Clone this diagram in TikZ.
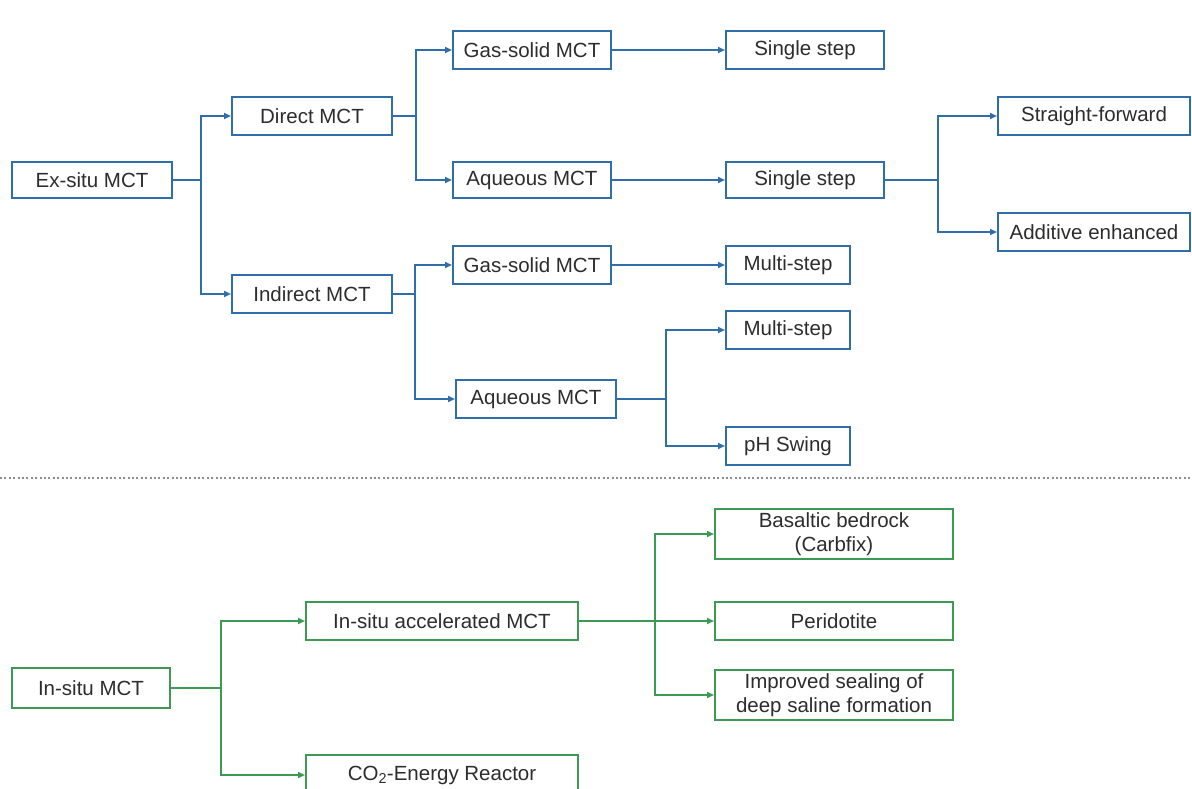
\documentclass[tikz,border=0pt]{standalone}
\usepackage{fontspec}
\setmainfont{Liberation Sans}
\usetikzlibrary{arrows.meta}
\definecolor{exblue}{RGB}{47,110,168}
\definecolor{ingreen}{RGB}{60,154,82}
\definecolor{txt}{RGB}{45,45,45}
\tikzset{
  box/.style={draw, line width=2pt, fill=white, inner sep=0pt, align=center,
    text=txt, font=\fontsize{20.5}{24.5}\selectfont},
  bbox/.style={box, draw=exblue},
  gbox/.style={box, draw=ingreen},
  wire/.style={line width=2pt},
  link/.style={wire, -{Triangle[length=7pt,width=6pt]}},
  blink/.style={link, draw=exblue},
  glink/.style={link, draw=ingreen},
  sep/.style={draw=gray!90, line width=2pt, dash pattern=on 2pt off 2.4pt}
}
\begin{document}
\begin{tikzpicture}[x=1pt,y=-1pt]
\useasboundingbox (0,0) rectangle (1192,789);
\clip (0,0) rectangle (1192,789);
\fill[white] (0,0) rectangle (1192,789);

% ---- ex-situ branch ----
\node[bbox, minimum width=160pt, minimum height=36pt] (exsitu)   at (92,180)   {Ex-situ MCT};
\node[bbox, minimum width=160pt, minimum height=38pt] (direct)   at (312,116)  {Direct MCT};
\node[bbox, minimum width=160pt, minimum height=38pt] (indirect) at (312,294)  {Indirect MCT};
\node[bbox, minimum width=158pt, minimum height=38pt] (gsA)      at (532,50)   {Gas-solid MCT};
\node[bbox, minimum width=158pt, minimum height=38pt] (ssA)      at (805,50)   {Single step};
\node[bbox, minimum width=158pt, minimum height=36pt] (aqA)      at (532,180)  {Aqueous MCT};
\node[bbox, minimum width=158pt, minimum height=36pt] (ssB)      at (805,180)  {Single step};
\node[bbox, minimum width=192pt, minimum height=38pt] (straight) at (1094,116) {Straight-forward};
\node[bbox, minimum width=192pt, minimum height=38pt] (additive) at (1094,232) {Additive enhanced};
\node[bbox, minimum width=158pt, minimum height=38pt] (gsB)      at (532,265)  {Gas-solid MCT};
\node[bbox, minimum width=124pt, minimum height=38pt] (msA)      at (788,265)  {Multi-step};
\node[bbox, minimum width=160pt, minimum height=38pt] (aqB)      at (536,399)  {Aqueous MCT};
\node[bbox, minimum width=124pt, minimum height=38pt] (msB)      at (788,330)  {Multi-step};
\node[bbox, minimum width=124pt, minimum height=38pt] (phswing)  at (788,446)  {pH Swing};

\coordinate (jEx) at (201,0);
\coordinate (jDir) at (416,0);
\coordinate (jInd) at (415,0);
\coordinate (jSs) at (938,0);
\coordinate (jAq) at (666,0);

\draw[exblue, wire] (exsitu.east) -- (exsitu.east -| jEx);
\draw[blink] (exsitu.east -| jEx) |- (direct.west);
\draw[blink] (exsitu.east -| jEx) |- (indirect.west);

\draw[exblue, wire] (direct.east) -- (direct.east -| jDir);
\draw[blink] (direct.east -| jDir) |- (gsA.west);
\draw[blink] (direct.east -| jDir) |- (aqA.west);
\draw[blink] (gsA) -- (ssA);
\draw[blink] (aqA) -- (ssB);

\draw[exblue, wire] (ssB.east) -- (ssB.east -| jSs);
\draw[blink] (ssB.east -| jSs) |- (straight.west);
\draw[blink] (ssB.east -| jSs) |- (additive.west);

\draw[exblue, wire] (indirect.east) -- (indirect.east -| jInd);
\draw[blink] (indirect.east -| jInd) |- (gsB.west);
\draw[blink] (indirect.east -| jInd) |- (aqB.west);
\draw[blink] (gsB) -- (msA);

\draw[exblue, wire] (aqB.east) -- (aqB.east -| jAq);
\draw[blink] (aqB.east -| jAq) |- (msB.west);
\draw[blink] (aqB.east -| jAq) |- (phswing.west);

% ---- separator ----
\coordinate (sepL) at (0,478);
\coordinate (sepR) at (1192,478);
\draw[sep] (sepL) -- (sepR);

% ---- in-situ branch ----
\node[gbox, minimum width=158pt, minimum height=40pt] (insitu)  at (91,688)  {In-situ MCT};
\node[gbox, minimum width=272pt, minimum height=38pt] (accel)   at (442,621) {In-situ accelerated MCT};
\node[gbox, minimum width=272pt, minimum height=40pt] (reactor) at (442,775) {CO\textsubscript{2}-Energy Reactor};
\node[gbox, minimum width=238pt, minimum height=50pt] (basalt)  at (834,534) {Basaltic bedrock\\(Carbfix)};
\node[gbox, minimum width=238pt, minimum height=38pt] (perid)   at (834,621) {Peridotite};
\node[gbox, minimum width=238pt, minimum height=50pt] (sealing) at (834,695) {Improved sealing of\\deep saline formation};

\coordinate (jIn) at (221,0);
\coordinate (jAcc) at (655,0);

\draw[ingreen, wire] (insitu.east) -- (insitu.east -| jIn);
\draw[glink] (insitu.east -| jIn) |- (accel.west);
\draw[glink] (insitu.east -| jIn) |- (reactor.west);

\draw[glink] (accel) -- (perid);
\draw[glink] (accel.east -| jAcc) |- (basalt.west);
\draw[glink] (accel.east -| jAcc) |- (sealing.west);
\end{tikzpicture}
\end{document}
